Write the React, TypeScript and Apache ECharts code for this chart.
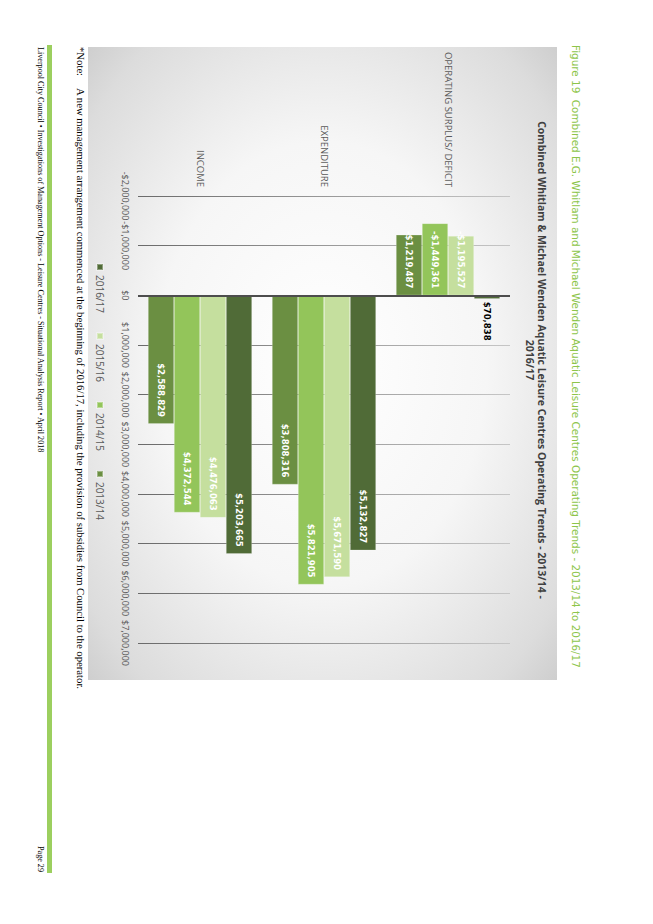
import { useEffect, useRef } from 'react';
import * as echarts from 'echarts';

// page is printed sideways: chart drawn landscape (924x653), then turned 90deg clockwise
const PAGE_W = 924;
const PAGE_H = 653;

const categories = ['INCOME', 'EXPENDITURE', 'OPERATING SURPLUS/ DEFICIT'];
const s2013_14 = [2588829, 3808316, -1219487];
const s2014_15 = [4372544, 5821905, -1449361];
const s2015_16 = [4476063, 5671590, -1195527];
const s2016_17 = [5203665, 5132827, 70838];
const legendOrder = ['2016/17', '2015/16', '2014/15', '2013/14'];

const valueMin = -2000000;
const valueMax = 7000000;
const valueStep = 1000000;

const COLORS: Record<string, string> = {
  '2013/14': '#6b8f42',
  '2014/15': '#93c55a',
  '2015/16': '#c5df9e',
  '2016/17': '#506b37',
};

const SANS = "'Open Sans', sans-serif";
const SERIF = "'Liberation Serif', serif";

const caption =
  'Figure 19  Combined E.G. Whitlam and Michael Wenden Aquatic Leisure Centres Operating Trends - 2013/14 to 2016/17';
const chartTitle =
  'Combined Whitlam & Michael Wenden Aquatic Leisure Centres Operating Trends - 2013/14 -\n2016/17';
const noteText =
  'A new management arrangement commenced at the beginning of 2016/17, including the provision of subsidies from Council to the operator.';
const footerText =
  'Liverpool City Council \u2022 Investigations of Management Options - Leisure Centres - Situational Analysis Report \u2022 April 2018';

function money(v: number): string {
  const s = '$' + Math.abs(v).toLocaleString('en-US');
  return v < 0 ? '-' + s : s;
}

function barSeries(name: string, values: number[]) {
  return {
    name,
    type: 'bar',
    barWidth: 26,
    barGap: '0%',
    barCategoryGap: '14%',
    itemStyle: {
      color: COLORS[name],
      borderColor: 'rgba(255,255,255,0.35)',
      borderWidth: 0.6,
    },
    label: {
      show: true,
      position: 'insideRight',
      distance: 7,
      color: '#ffffff',
      fontFamily: 'DejaVu Sans',
      fontWeight: 'bold',
      fontSize: 8.5,
      formatter: (p: any) => money(p.value),
    },
    data: values.map((v) =>
      Math.abs(v) < 300000
        ? { value: v, label: { position: 'right', distance: 3, color: '#000000' } }
        : v,
    ),
    z: 2,
  };
}

export default function App() {
  const ref = useRef<HTMLDivElement>(null);

  useEffect(() => {
    if (!ref.current) return;
    const chart = echarts.init(ref.current, undefined, { renderer: 'svg' });

    const series: any[] = [
      barSeries('2016/17', s2016_17),
      barSeries('2015/16', s2015_16),
      barSeries('2014/15', s2014_15),
      barSeries('2013/14', s2013_14),
    ];
    // zero line
    series[0].markLine = {
      silent: true,
      symbol: 'none',
      label: { show: false },
      lineStyle: { color: '#4d4d4d', width: 2, type: 'solid' },
      data: [{ xAxis: 0 }],
    };

    chart.setOption({
      animation: false,
      backgroundColor: '#ffffff',
      textStyle: { fontFamily: SANS },
      grid: { left: 196, right: PAGE_W - 643, top: 143, height: 372 },
      legend: {
        data: legendOrder,
        left: 258,
        top: 543,
        icon: 'rect',
        itemWidth: 6,
        itemHeight: 6,
        itemGap: 19,
        textStyle: { color: '#595959', fontSize: 10, fontFamily: SANS },
      },
      xAxis: {
        type: 'value',
        min: valueMin,
        max: valueMax,
        interval: valueStep,
        axisLine: { show: false },
        axisTick: { show: false },
        axisLabel: {
          color: '#595959',
          fontSize: 9,
          fontFamily: SANS,
          margin: 8,
          hideOverlap: false,
          formatter: (v: number) => money(v),
        },
        splitLine: {
          lineStyle: {
            width: 1,
            color: new echarts.graphic.LinearGradient(
              0, 515, 0, 143,
              [
                { offset: 0, color: '#6a6a6a' },
                { offset: 1, color: '#c6c6c6' },
              ],
              true,
            ),
          },
        },
      },
      yAxis: {
        type: 'category',
        data: categories,
        axisLine: { show: false, onZero: false },
        axisTick: { show: false },
        axisLabel: {
          color: '#595959',
          fontSize: 9.5,
          fontFamily: SANS,
          margin: 9,
        },
      },
      graphic: {
        elements: [
          {
            type: 'rect',
            z: -10,
            silent: true,
            shape: { x: 47, y: 96, width: 633, height: 469 },
            style: {
              fill: new echarts.graphic.RadialGradient(0.5, 0.5, 0.78, [
                { offset: 0, color: '#ffffff' },
                { offset: 0.45, color: '#f6f6f6' },
                { offset: 0.8, color: '#dcdcdc' },
                { offset: 1, color: '#c2c2c2' },
              ]),
            },
          },
          {
            type: 'text',
            x: 45,
            y: 77,
            style: {
              text: caption,
              fill: '#8dc54a',
              font: `10.4px 'DejaVu Sans', sans-serif`,
              textVerticalAlign: 'middle',
            },
          },
          {
            type: 'text',
            x: 360,
            y: 105,
            style: {
              text: chartTitle,
              fill: '#404040',
              font: `bold 10.5px ${SANS}`,
              textAlign: 'center',
              lineHeight: 12,
            },
          },
          {
            type: 'text',
            x: 47,
            y: 572.5,
            style: {
              text: '*Note:',
              fill: '#000000',
              font: `10.7px ${SERIF}`,
              textVerticalAlign: 'middle',
            },
          },
          {
            type: 'text',
            x: 88,
            y: 572.5,
            style: {
              text: noteText,
              fill: '#000000',
              font: `10.7px ${SERIF}`,
              textVerticalAlign: 'middle',
            },
          },
          {
            type: 'rect',
            silent: true,
            shape: { x: 45, y: 601, width: 828, height: 5 },
            style: { fill: '#9ccf5f' },
          },
          {
            type: 'text',
            x: 47,
            y: 612.5,
            style: {
              text: footerText,
              fill: '#000000',
              font: `8.15px ${SERIF}`,
              textVerticalAlign: 'middle',
            },
          },
          {
            type: 'text',
            x: 872,
            y: 612.5,
            style: {
              text: 'Page 29',
              fill: '#000000',
              font: `8.15px ${SERIF}`,
              textAlign: 'right',
              textVerticalAlign: 'middle',
            },
          },
        ],
      },
      series,
    });

    return () => {
      chart.dispose();
    };
  }, []);

  return (
    <div style={{ position: 'fixed', left: 0, top: 0, width: PAGE_H, height: PAGE_W, overflow: 'hidden', background: '#fff' }}>
      <div
        ref={ref}
        style={{
          position: 'absolute',
          left: 0,
          top: 0,
          width: PAGE_W,
          height: PAGE_H,
          transformOrigin: '0 0',
          transform: `translateX(${PAGE_H}px) rotate(90deg)`,
        }}
      />
    </div>
  );
}
